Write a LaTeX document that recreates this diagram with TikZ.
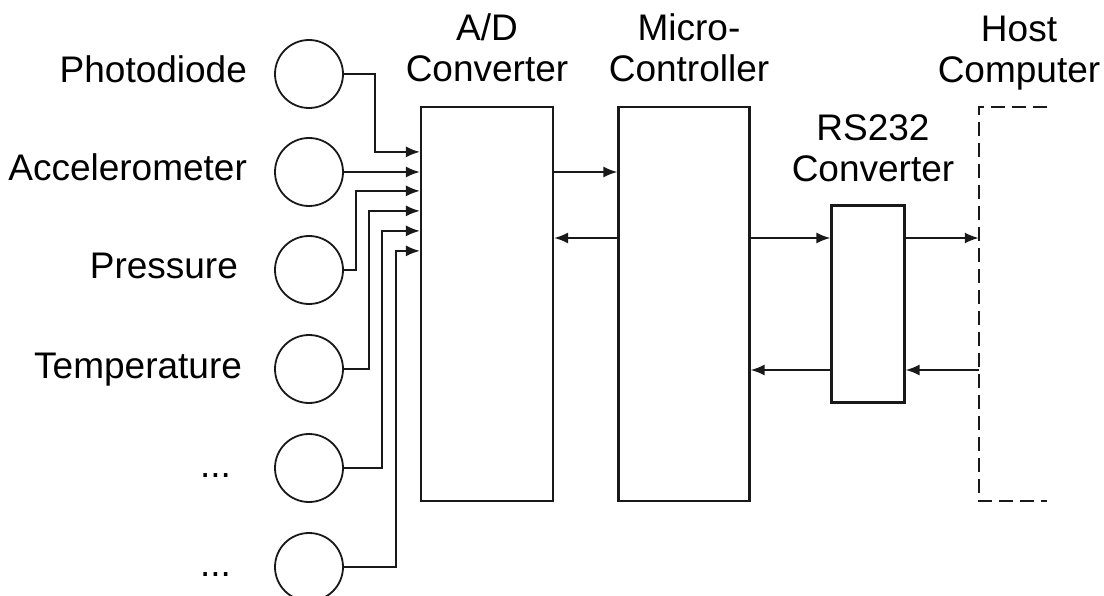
\documentclass[tikz,border=0pt]{standalone}
\usepackage{fontspec}
\setmainfont{Liberation Sans}
\usetikzlibrary{positioning,arrows.meta,calc}

\begin{document}
\begin{tikzpicture}[x=1pt,y=-1pt,font=\fontsize{37}{41}\selectfont,>={Latex[length=14pt,width=11pt]},
  sens/.style={circle,draw=black!90,line width=1.8pt,minimum size=68pt,inner sep=0pt},
  lbl/.style={inner sep=0pt,text height=18pt,text depth=0pt},
  blk/.style={rectangle,draw=black!90,line width=2.2pt,inner sep=0pt,minimum height=394pt},
  hd/.style={align=center,inner sep=0pt,text depth=0pt},
  ar/.style={->,line width=1.9pt,black!90}]
\useasboundingbox (0,0) rectangle (1104,596);
\node[sens](s1) at (309,74){};
\node[sens](s2) at (309,172){};
\node[sens](s3) at (309,270){};
\node[sens](s4) at (309,369){};
\node[sens](s5) at (309,468){};
\node[sens](s6) at (309,567){};
\node[lbl,left=27pt of s1](l1){Photodiode};
\node[lbl,left=27pt of s2](l2){Accelerometer};
\node[lbl,left=36pt of s3](l3){Pressure};
\node[lbl,left=32pt of s4](l4){Temperature};
\node[lbl,left=43pt of s5](l5){...};
\node[lbl,left=43pt of s6](l6){...};
\node[blk,minimum width=132pt](ad) at (487,304){};
\node[blk,minimum width=131pt](mc) at (684,304){};
\node[blk,minimum width=73pt,minimum height=197pt](rs) at (868,304){};
\node[minimum width=68pt,minimum height=394pt,inner sep=0pt](host) at (1013,304){};
\draw[dash pattern=on 14pt off 7pt,line width=1.8pt,black!90](host.north east)--(host.north west)--(host.south west)--(host.south east);
\node[hd,above=24pt of ad](adt){A/D\\Converter};
\node[hd,above=24pt of mc,xshift=5pt](mct){Micro-\\Controller};
\node[hd,above=23pt of rs,xshift=5pt](rst){RS232\\Converter};
\node[hd,above=24pt of host,xshift=6pt](hostt){Host\\Computer};
% inputs of the A/D converter
\coordinate(i1) at ($(ad.north west)+(0,46)$);
\coordinate(i3) at ($(ad.north west)+(0,85)$);
\coordinate(i4) at ($(ad.north west)+(0,105)$);
\coordinate(i5) at ($(ad.north west)+(0,125)$);
\coordinate(i6) at ($(ad.north west)+(0,145)$);
\coordinate(hi) at (0,238);\coordinate(lo) at (0,370);
\draw[ar](s1.east)-- ++(31,0)|-(i1);\draw[ar](s2.east)--(s2 -| ad.west);
\draw[ar](s3.east)-- ++(12,0)|-(i3);\draw[ar](s4.east)-- ++(25,0)|-(i4);
\draw[ar](s5.east)-- ++(38,0)|-(i5);\draw[ar](s6.east)-- ++(52,0)|-(i6);
\draw[ar](ad.east |- s2)--(mc.west |- s2);\draw[ar](mc.west |- hi)--(ad.east |- hi);
\draw[ar](mc.east |- hi)--(rs.west |- hi);\draw[ar](rs.east |- hi)--(host.west |- hi);
\draw[ar](host.west |- lo)--(rs.east |- lo);\draw[ar](rs.west |- lo)--(mc.east |- lo);
\end{tikzpicture}
\end{document}
